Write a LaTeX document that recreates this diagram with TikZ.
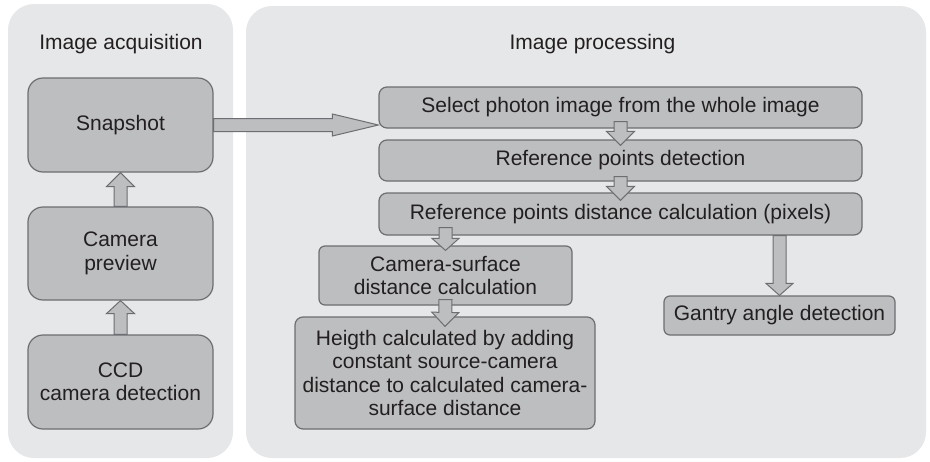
\documentclass[tikz,border=0pt]{standalone}
\usepackage{fontspec}
\setmainfont{Liberation Sans}
\usepackage{xcolor}
\usetikzlibrary{calc}

\definecolor{panelgray}{HTML}{E6E7E8}
\definecolor{boxgray}{HTML}{BDBEC0}
\definecolor{edgegray}{HTML}{6D6E71}
\definecolor{textgray}{HTML}{231F20}

\begin{document}
\begin{tikzpicture}[x=1pt, y=-1pt,
	every node/.style={font=\fontsize{21}{23.5}\selectfont, text=textgray},
	panel/.style={fill=panelgray, rounded corners=26pt},
	stepbox/.style={draw=edgegray, fill=boxgray, line width=1.2pt, rounded corners=#1, align=center, inner sep=0pt},
	stepbox/.default=8pt,
	blockarrow/.style={draw=edgegray, fill=boxgray, line width=1pt, line join=miter}]
	\def\shaftw{6.5pt};
	\def\fatarrow#1#2#3#4{% head length, head half width, from, to
		\coordinate (h) at ($(#4)!#1!(#3)$);
		\draw [blockarrow] ($(#3)!\shaftw!90:(#4)$) -- ($(h)!\shaftw!90:(#4)$) -- ($(h)!#2!90:(#4)$) -- (#4) -- ($(h)!#2!-90:(#4)$) -- ($(h)!\shaftw!-90:(#4)$) -- ($(#3)!\shaftw!-90:(#4)$) -- cycle;
	}

	\useasboundingbox (0,0) rectangle (930,461);

	\fill [panel] (8,4) rectangle (233,458);
	\fill [panel] (246,6) rectangle (926,458);

	\node (acqtitle) at (121,44) {Image acquisition};
	\node (proctitle) at (592.5,44) {Image processing};

	% acquisition
	\node [stepbox=15pt, minimum width=185pt, minimum height=94pt] (snap) at (120.5,125) {Snapshot};
	\node [stepbox=15pt, minimum width=185pt, minimum height=93pt] (cam) at (120.5,253.5) {Camera\\preview};
	\node [stepbox=15pt, minimum width=185pt, minimum height=94pt] (ccd) at (120.5,382) {CCD\\camera detection};

	% processing
	\node [stepbox, minimum width=483pt, minimum height=41pt] (select) at (620.5,107.5) {Select photon image from the whole image};
	\node [stepbox, minimum width=483pt, minimum height=41pt] (refdet) at (620.5,160.5) {Reference points detection};
	\node [stepbox, minimum width=483pt, minimum height=42pt] (refdist) at (620.5,214) {Reference points distance calculation (pixels)};
	\node [stepbox=6pt, minimum width=253pt, minimum height=59pt] (camsurf) at (445.5,275.5) {Camera-surface\\distance calculation};
	\node [stepbox, minimum width=300pt, minimum height=112pt] (height) at (445,373) {Heigth calculated by adding\\constant source-camera\\distance to calculated camera-\\surface distance};
	\node [stepbox=6pt, minimum width=231pt, minimum height=39pt] (gantry) at (779.5,315.5) {Gantry angle detection};

	\fatarrow{13pt}{14pt}{ccd.north}{cam.south}
	\fatarrow{14pt}{14pt}{cam.north}{snap.south}

	\coordinate (snaptip) at (snap.east -| select.west);
	\fatarrow{46pt}{11pt}{snap.east}{snaptip}

	\coordinate (a1) at ($(select.south)+(0,-7)$);
	\coordinate (b1) at ($(refdet.north)+(0,6)$);
	\fatarrow{14pt}{14pt}{a1}{b1}

	\coordinate (a2) at ($(refdet.south)+(0,-5)$);
	\coordinate (b2) at ($(refdist.north)+(0,8)$);
	\fatarrow{14pt}{14pt}{a2}{b2}

	\coordinate (a3) at ($(refdist.south -| camsurf.north)+(0,-8)$);
	\coordinate (b3) at ($(camsurf.north)+(0,5)$);
	\fatarrow{12pt}{13.5pt}{a3}{b3}

	\coordinate (a4) at ($(camsurf.south)+(0,-6)$);
	\coordinate (b4) at ($(height.north)+(0,10)$);
	\fatarrow{14pt}{13.5pt}{a4}{b4}

	\coordinate (a5) at (refdist.south -| gantry.north);
	\fatarrow{12pt}{13.5pt}{a5}{gantry.north}
\end{tikzpicture}
\end{document}
